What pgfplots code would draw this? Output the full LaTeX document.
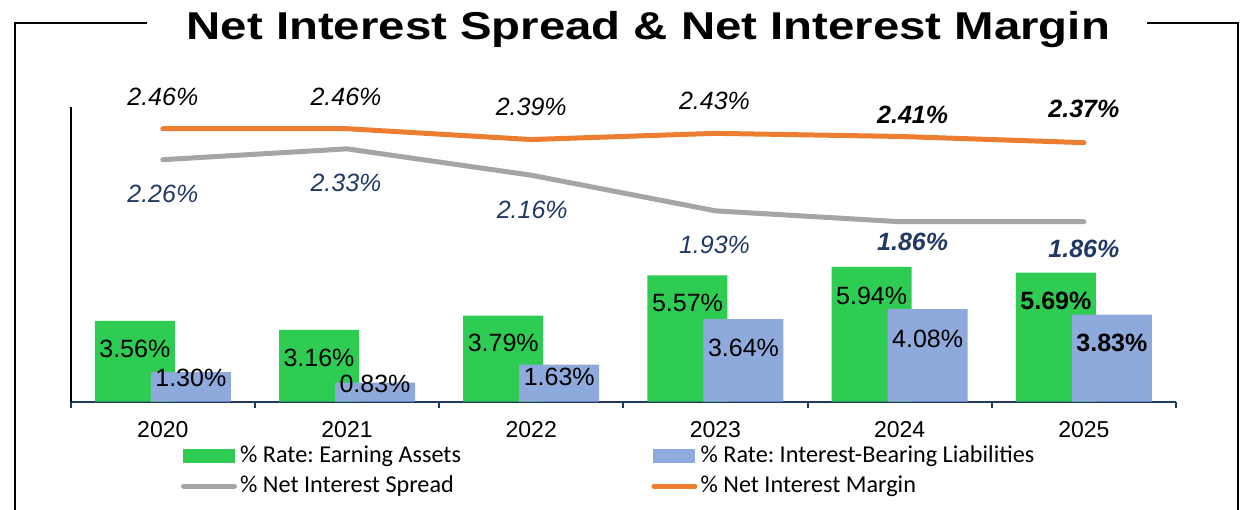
\documentclass[border=0pt]{standalone}
\usepackage{fontspec}
\setmainfont{Liberation Sans}
\newfontfamily\carlito{Carlito}
\usepackage{graphicx}
\usepackage{pgfplots}
\usepackage{pgfplotstable}
\pgfplotsset{compat=1.18}
\definecolor{cgreen}{RGB}{46,204,82}
\definecolor{cblue}{RGB}{142,169,219}
\definecolor{corange}{RGB}{237,125,49}
\definecolor{cgray}{RGB}{165,165,165}
\definecolor{cnavy}{RGB}{31,56,100}
\frenchspacing

% x = category index (0 = 2020), y = value, dy = label offset below point (px), dx = label shift (px), bf = bold
\pgfplotstableread{
x y dy dx bf
0 3.56 28 -28 0
1 3.16 28 -28 0
2 3.79 27.3 -28 0
3 5.57 27.7 -28 0
4 5.94 28.5 -28 0
5 5.69 28.4 -28 1
}\greentab
\pgfplotstableread{
x y dy dx bf
0 1.30 5.4 28 0
1 0.83 0.8 28 0
2 1.63 12 28 0
3 3.64 28.7 28 0
4 4.08 29.6 28 0
5 3.83 28.3 28 1
}\bluetab
\pgfplotstableread{
x y dy dx bf
0 2.46 -31.8 0 0
1 2.46 -31.8 -1 0
2 2.39 -32.7 0 0
3 2.43 -32.5 -1 0
4 2.41 -22 13 1
5 2.37 -33.3 0 1
}\orangetab
\pgfplotstableread{
x y dy dx bf
0 2.26 34.6 0 0
1 2.33 34.5 -1 0
2 2.16 35 1 0
3 1.93 34.3 -1 0
4 1.86 20.4 13 1
5 1.86 27 0 1
}\graytab

\newcommand\maybebold[1]{\ifdim#1pt>0.5pt\bfseries\fi}

\begin{document}
\begin{tikzpicture}
\pgfplotsset{
  /pgf/number format/assume math mode=true,
  mylabels/.style={
    nodes near coords={\maybebold{\mybfv}\pgfmathprintnumber[fixed,fixed zerofill,precision=2,assume math mode=true]{\pgfplotspointmeta}\%},
    visualization depends on={\thisrow{dy}\as\mydyv},
    visualization depends on={\thisrow{dx}\as\mydxv},
    visualization depends on={\thisrow{bf}\as\mybfv},
    every node near coord/.append style={anchor=center, inner sep=0pt,
      yshift={-0.5pt*(\mydyv)}, xshift={0.5pt*(\mydxv)},
      font=\fontsize{12.5pt}{14pt}\selectfont},
  },
}
\begin{axis}[
  at={(35.35pt,53.75pt)}, anchor=south west,
  scale only axis, width=552.65pt, height=147.25pt,
  xmin=-0.5, xmax=5.5, ymin=0, ymax=13,
  clip=false,
  axis x line*=bottom, axis y line*=left,
  x axis line style={cnavy, line width=1pt},
  y axis line style={black, line width=0.9pt},
  ytick=\empty,
  xtick={0,1,2,3,4,5},
  xticklabels={2020,2021,2022,2023,2024,2025},
  major tick length=0pt,
  minor xtick={-0.5,0.5,1.5,2.5,3.5,4.5,5.5},
  minor tick length=3pt,
  tick align=outside,
  minor tick style={cnavy, line width=1pt},
  xticklabel style={font=\fontsize{11.5pt}{12pt}\selectfont, anchor=center, inner sep=0pt, yshift=-14.25pt},
  legend style={at={(0.0998,-0.236)}, anchor=west, draw=none, fill=none,
    inner sep=0pt, outer sep=0pt,
    font=\carlito\fontsize{12.1pt}{13pt}\selectfont,
    nodes={inner xsep=1.6pt, inner ysep=2.5pt, text height=8pt, text depth=2pt}},
  legend columns=2,
  legend cell align=left,
]
\addplot[ybar, bar width=40pt, bar shift=-14pt, fill=cgreen, draw=none, mylabels,
  every node near coord/.append style={text=black},
  legend image code/.code={\fill[cgreen] (0pt,-3.5pt) rectangle (26pt,3.5pt);}]
  table[x=x,y=y] {\greentab};
\addplot[ybar, bar width=40pt, bar shift=14pt, fill=cblue, draw=none, mylabels,
  every node near coord/.append style={text=black},
  legend image code/.code={\fill[cblue] (0pt,-3.5pt) rectangle (21pt,3.5pt);}]
  table[x=x,y=y] {\bluetab};
\addlegendimage{legend image code/.code={\draw[cgray, line width=2.5pt, line cap=round] (0.5pt,0pt) -- (26pt,0pt);}}
\addlegendimage{legend image code/.code={\draw[corange, line width=2.5pt, line cap=round] (0.5pt,0pt) -- (21pt,0pt);}}
\legend{\makebox[204pt][l]{\% Rate: Earning Assets},\% Rate: Interest-Bearing Liabilities,\makebox[204pt][l]{\% Net Interest Spread},\% Net Interest Margin}
\end{axis}
\begin{axis}[
  at={(35.35pt,53.75pt)}, anchor=south west,
  scale only axis, width=552.65pt, height=147.25pt,
  xmin=-0.5, xmax=5.5, ymin=0.7, ymax=2.6,
  hide axis, clip=false,
]
\addplot[cgray, line width=2.5pt, line cap=round, line join=round, mark=none, mylabels,
  every node near coord/.append style={text=cnavy, font=\fontsize{12.5pt}{14pt}\selectfont\itshape}]
  table[x=x,y=y] {\graytab};
\addplot[corange, line width=2.5pt, line cap=round, line join=round, mark=none, mylabels,
  every node near coord/.append style={text=black, font=\fontsize{12.5pt}{14pt}\selectfont\itshape}]
  table[x=x,y=y] {\orangetab};
\end{axis}
\draw[black, line width=1pt] (73.4pt,243.2pt) -- (7.5pt,243.2pt) -- (7.5pt,-2pt);
\draw[black, line width=1pt] (573.5pt,243.2pt) -- (618.8pt,243.2pt) -- (618.8pt,-2pt);
\node[anchor=base, inner sep=0pt, font=\fontsize{19.4pt}{20pt}\selectfont\bfseries] at (324.2pt,234.85pt)
  {\scalebox{1.22}[1]{Net Interest Spread \& Net Interest Margin}};
\pgfresetboundingbox
\useasboundingbox (0pt,0pt) rectangle (621.5pt,254.5pt);
\end{tikzpicture}
\end{document}
